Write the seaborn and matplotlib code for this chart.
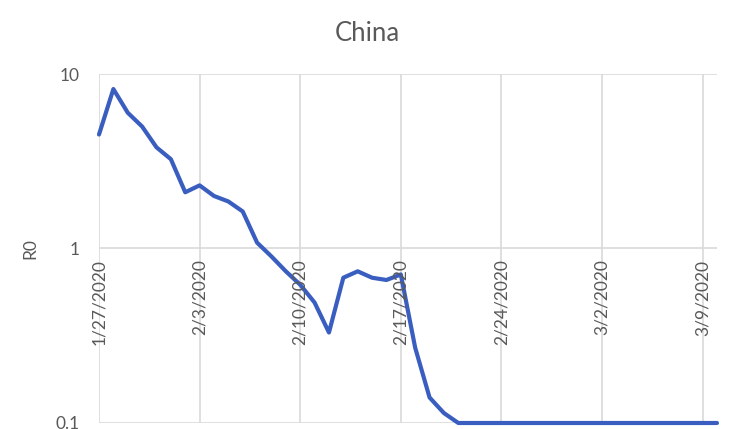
import pandas as pd
import seaborn as sns
import matplotlib.pyplot as plt
import matplotlib.transforms as mtransforms

# daily R0 estimates for China, starting 1/27/2020
r0 = [4.5, 8.2, 6.0, 5.0, 3.8, 3.25, 2.1, 2.3, 2.0, 1.86, 1.63, 1.08, 0.9, 0.74,
      0.62, 0.49, 0.33, 0.68, 0.74, 0.68, 0.66, 0.71, 0.27, 0.14, 0.114, 0.1,
      0.1, 0.1, 0.1, 0.1, 0.1, 0.1, 0.1, 0.1, 0.1, 0.1, 0.1, 0.1, 0.1, 0.1,
      0.1, 0.1, 0.1, 0.1]
dates = pd.date_range('2020-01-27', periods=len(r0), freq='D')
tick_dates = pd.date_range('2020-01-27', '2020-03-09', freq='7D')
yticks = [0.1, 1, 10]
ytick_labels = ['0.1', '1', '10']

df = pd.DataFrame({'date': dates, 'R0': r0})

sns.set_theme(style="white")
plt.rcParams['font.family'] = ['Lato', 'DejaVu Sans']
text_color = '#595959'
grid_color = '#d9d9d9'
fs = 12.5

fig = plt.figure(figsize=(7.35, 4.29), dpi=100)
ax = fig.add_axes([0.1347, 0.014, 0.9755 - 0.1347, 0.8275 - 0.014])

sns.lineplot(data=df, x='date', y='R0', ax=ax, color='#3a5ec0', linewidth=3.0,
             zorder=3, clip_on=False)
ax.set_yscale('log')
ax.set_ylim(0.1, 10)
ax.set_xlim(dates[0], dates[-1])
ax.set_yticks(yticks)
ax.set_yticklabels(ytick_labels, fontsize=fs, color=text_color)
ax.minorticks_off()
ax.tick_params(axis='y', length=0, pad=14)
ax.set_xticks(tick_dates)
ax.set_xticklabels([])
ax.tick_params(axis='x', length=0)
ax.grid(True, color=grid_color, linewidth=1.2)
for s in ax.spines.values():
    s.set_visible(False)

# date labels sit on the y=1 line, rotated
trans = mtransforms.offset_copy(ax.transData, fig=fig, x=0, y=-8, units='points')
for d in tick_dates:
    ax.text(d, 1, f'{d.month}/{d.day}/{d.year}', rotation=90, ha='center', va='top',
            fontsize=fs, color=text_color, transform=trans, zorder=4)

ax.set_xlabel('')
ax.set_ylabel('R0', fontsize=fs, color=text_color, labelpad=12)
fig.text(0.5, 0.923, 'China', ha='center', va='center', fontsize=18.5, color=text_color)

fig.savefig('out.png', dpi=100)
